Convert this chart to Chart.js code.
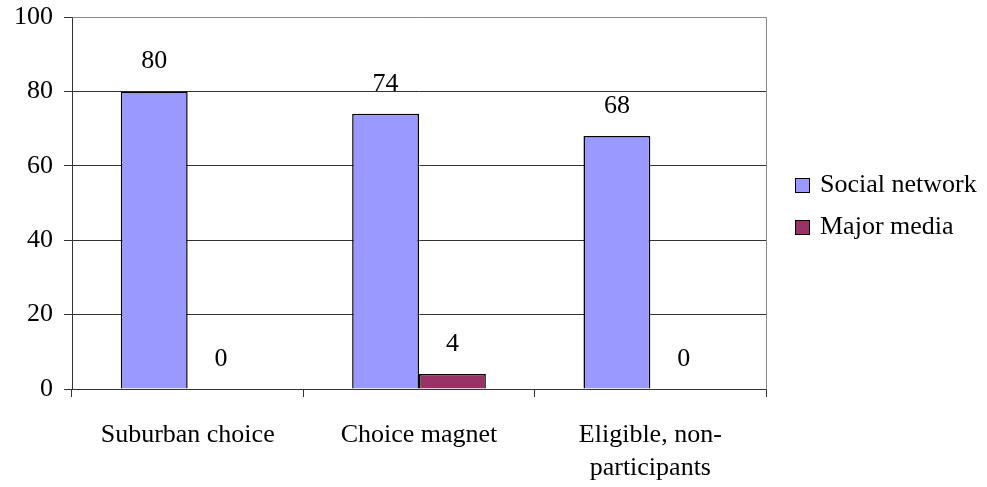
<!DOCTYPE html>
<html>
<head>
<meta charset="utf-8">
<script src="https://cdn.jsdelivr.net/npm/chart.js@4/dist/chart.umd.min.js"></script>
<style>
  html, body { margin: 0; padding: 0; background: #fff; }
  #wrap { width: 987px; height: 487px; }
</style>
</head>
<body>
<div id="wrap"><canvas id="c" width="987" height="487"></canvas></div>
<script>
// Survey: where families heard about the program
const categories = ['Suburban choice', 'Choice magnet', ['Eligible, non-', 'participants']];
const socialNetwork = [80, 74, 68];
const majorMedia = [0, 4, 0];
const yTicks = [0, 20, 40, 60, 80, 100];

const FONT = '"Liberation Serif", "Times New Roman", serif';

// value labels above every bar
const valueLabels = {
  id: 'valueLabels',
  afterDatasetsDraw(chart) {
    const ctx = chart.ctx;
    ctx.save();
    ctx.font = '26px ' + FONT;
    ctx.fillStyle = '#000';
    ctx.textAlign = 'center';
    ctx.textBaseline = 'middle';
    chart.data.datasets.forEach((ds, i) => {
      chart.getDatasetMeta(i).data.forEach((bar, j) => {
        ctx.fillText(String(ds.data[j]), bar.x, bar.y - 30);
      });
    });
    ctx.restore();
  }
};

// top and right frame of the plot area
const plotFrame = {
  id: 'plotFrame',
  beforeDatasetsDraw(chart) {
    const { ctx, chartArea: a } = chart;
    ctx.save();
    ctx.strokeStyle = '#8a8a8a';
    ctx.lineWidth = 1;
    ctx.beginPath();
    ctx.moveTo(Math.round(a.left) + 0.5, Math.round(a.top) + 0.5);
    ctx.lineTo(Math.round(a.right) + 0.5, Math.round(a.top) + 0.5);
    ctx.lineTo(Math.round(a.right) + 0.5, Math.round(a.bottom) + 0.5);
    ctx.stroke();
    ctx.restore();
  }
};

// legend to the right of the plot
const sideLegend = {
  id: 'sideLegend',
  afterDraw(chart) {
    const ctx = chart.ctx;
    const x0 = chart.chartArea.right + 29;
    const yc = (chart.chartArea.top + chart.chartArea.bottom) / 2 + 3;
    const gap = 42;
    const n = chart.data.datasets.length;
    ctx.save();
    ctx.font = '26px ' + FONT;
    ctx.textBaseline = 'middle';
    chart.data.datasets.forEach((ds, i) => {
      const y = Math.round(yc - (n - 1) * gap / 2 + i * gap);
      ctx.fillStyle = ds.backgroundColor;
      ctx.fillRect(x0 + 0.5, y - 7 + 0.5, 14, 14);
      ctx.strokeStyle = '#000';
      ctx.lineWidth = 1;
      ctx.strokeRect(x0 + 0.5, y - 7 + 0.5, 14, 14);
      ctx.fillStyle = '#000';
      ctx.fillText(ds.label, x0 + 25, y);
    });
    ctx.restore();
  }
};

new Chart(document.getElementById('c'), {
  type: 'bar',
  data: {
    labels: categories,
    datasets: [
      {
        label: 'Social network',
        data: socialNetwork,
        backgroundColor: '#9999ff',
        borderColor: '#000',
        borderWidth: 1.5
      },
      {
        label: 'Major media',
        data: majorMedia,
        backgroundColor: '#993366',
        borderColor: '#000',
        borderWidth: 1.5
      }
    ]
  },
  options: {
    responsive: false,
    animation: false,
    devicePixelRatio: 1,
    layout: { padding: { top: 17, right: 221, left: 0, bottom: 0 } },
    plugins: {
      legend: { display: false },
      tooltip: { enabled: false }
    },
    datasets: {
      bar: { categoryPercentage: 0.578, barPercentage: 1.0 }
    },
    scales: {
      x: {
        offset: true,
        grid: {
          offset: true,
          drawOnChartArea: false,
          drawTicks: true,
          tickLength: 8,
          color: '#333'
        },
        border: { color: '#333', width: 1 },
        ticks: {
          color: '#000',
          font: { family: FONT, size: 26, lineHeight: 1.27 },
          padding: 22,
          maxRotation: 0,
          autoSkip: false
        },
        afterFit(scale) {
          scale.height = 98;
          scale.paddingLeft = 0;
          scale.paddingRight = 0;
        }
      },
      y: {
        min: 0,
        max: 100,
        afterBuildTicks(scale) { scale.ticks = yTicks.map(v => ({ value: v })); },
        grid: {
          color: (c) => (c.tick && c.tick.value === 100 ? '#8a8a8a' : '#333'),
          tickLength: 8,
          tickColor: '#333'
        },
        border: { color: '#333', width: 1 },
        ticks: {
          color: '#000',
          font: { family: FONT, size: 26 },
          padding: 11
        },
        afterFit(scale) {
          scale.width = 72;
          scale.paddingTop = 0;
          scale.paddingBottom = 0;
        }
      }
    }
  },
  plugins: [plotFrame, valueLabels, sideLegend]
});
</script>
</body>
</html>
